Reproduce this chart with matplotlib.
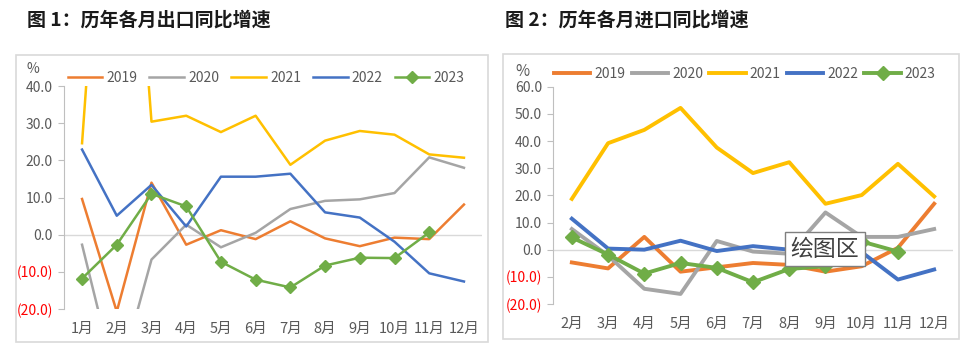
import numpy as np
import matplotlib
matplotlib.use("Agg")
import matplotlib.pyplot as plt
from matplotlib.patches import Rectangle
from matplotlib.ticker import FuncFormatter

plt.rcParams['font.family'] = ['Noto Sans CJK SC', 'DejaVu Sans']

# ---- data: exports (chart 1), Jan..Dec ----
exp_months = ['1月', '2月', '3月', '4月', '5月', '6月', '7月', '8月', '9月', '10月', '11月', '12月']
exp_2019 = [9.6, -20.7, 14.0, -2.7, 1.2, -1.2, 3.6, -1.0, -3.1, -0.8, -1.2, 8.1]
exp_2020 = [-2.7, -40.6, -6.7, 2.7, -3.4, 0.5, 6.9, 9.1, 9.5, 11.2, 20.8, 18.0]
exp_2021 = [24.6, 154.9, 30.4, 32.0, 27.6, 32.0, 18.8, 25.3, 27.9, 26.9, 21.6, 20.7]
exp_2022 = [22.9, 5.1, 13.4, 2.2, 15.6, 15.6, 16.4, 6.0, 4.6, -1.9, -10.4, -12.6]
exp_2023 = [-11.8, -2.7, 11.0, 7.6, -7.3, -12.1, -14.2, -8.3, -6.2, -6.3, 0.6]

# ---- data: imports (chart 2), Feb..Dec ----
imp_months = ['2月', '3月', '4月', '5月', '6月', '7月', '8月', '9月', '10月', '11月', '12月']
imp_2019 = [-4.7, -6.9, 4.7, -8.1, -6.5, -4.9, -5.6, -8.1, -6.1, 0.7, 16.9]
imp_2020 = [7.6, -2.2, -14.4, -16.3, 3.2, -0.7, -1.5, 13.7, 4.7, 4.7, 7.6]
imp_2021 = [18.7, 39.2, 44.1, 52.2, 37.6, 28.2, 32.2, 16.9, 20.1, 31.6, 19.6]
imp_2022 = [11.4, 0.4, 0.0, 3.3, -0.5, 1.3, 0.0, 0.3, -0.9, -11.0, -7.3]
imp_2023 = [4.5, -1.8, -8.8, -4.9, -6.7, -12.0, -7.1, -6.1, 3.0, -0.7]

years = ['2019', '2020', '2021', '2022', '2023']
colors = ['#ED7D31', '#A5A5A5', '#FFC000', '#4472C4', '#70AD47']
text_c = '#595959'

W, H = 973, 350


def fx(px):
    return px / W


def fy(py):
    return 1 - py / H


def fmt(v, pos):
    if v < 0:
        return '(%.1f)' % abs(v)
    return '%.1f' % v


def draw(ax, months, series, ylim, step, lw, ms):
    x = np.arange(len(months))
    for i, (s, c) in enumerate(zip(series, colors)):
        if i == 4:
            ax.plot(x[:len(s)], s, color=c, lw=lw, marker='D', ms=ms,
                    label=years[i], zorder=5)
        else:
            ax.plot(x[:len(s)], s, color=c, lw=lw, label=years[i], zorder=3)
    ax.set_xlim(-0.52, len(months) - 0.48)
    ax.set_ylim(*ylim)
    ax.set_yticks(np.arange(ylim[0], ylim[1] + 1, step))
    ax.yaxis.set_major_formatter(FuncFormatter(fmt))
    ax.set_xticks(x)
    ax.set_xticklabels(months)
    ax.axhline(0, color='#D9D9D9', lw=1, zorder=1)
    for sp in ['top', 'right', 'bottom']:
        ax.spines[sp].set_visible(False)
    ax.spines['left'].set_color('#BFBFBF')
    ax.tick_params(axis='y', length=4, color='#BFBFBF', labelsize=10,
                   labelcolor=text_c, pad=4)
    ax.tick_params(axis='x', length=0, labelsize=10.5, labelcolor=text_c, pad=9)
    for t, v in zip(ax.get_yticklabels(), ax.get_yticks()):
        if v < 0:
            t.set_color('#FF0000')
    ax.patch.set_alpha(0)


fig = plt.figure(figsize=(W / 100, H / 100), dpi=100)

# outer frames
fig.patches.append(Rectangle((fx(16), fy(342)), fx(472), 287 / H, transform=fig.transFigure,
                             fill=False, ec='#D9D9D9', lw=1.2))
fig.patches.append(Rectangle((fx(503), fy(339)), fx(456), 285 / H, transform=fig.transFigure,
                             fill=False, ec='#D9D9D9', lw=1.2))

# chart 1
ax1 = fig.add_axes([fx(64), fy(309), fx(482 - 64), (309 - 86) / H])
draw(ax1, exp_months, [exp_2019, exp_2020, exp_2021, exp_2022, exp_2023],
     (-20, 40), 10, 1.8, 6)
ax1.legend(ncol=5, frameon=False, loc='center', bbox_to_anchor=(fx(266), fy(78)),
           bbox_transform=fig.transFigure, fontsize=10, labelcolor=text_c,
           handlelength=2.5, handletextpad=0.3, columnspacing=0.85)
fig.text(fx(33), fy(69), '%', fontsize=10, color=text_c, ha='center', va='center')
fig.text(fx(27), fy(20), '图 1：历年各月出口同比增速', fontsize=13.7, fontweight='bold',
         color='#1a1a1a', ha='left', va='center')

# chart 2
ax2 = fig.add_axes([fx(553), fy(304), fx(953 - 553), (304 - 86.7) / H])
draw(ax2, imp_months, [imp_2019, imp_2020, imp_2021, imp_2022, imp_2023],
     (-20, 60), 10, 2.8, 7)
ax2.legend(ncol=5, frameon=False, loc='center', bbox_to_anchor=(fx(745), fy(74)),
           bbox_transform=fig.transFigure, fontsize=10, labelcolor=text_c,
           handlelength=2.6, handletextpad=0.3, columnspacing=0.45)
fig.text(fx(522), fy(72), '%', fontsize=11, color=text_c, ha='center', va='center')
fig.text(fx(505), fy(20), '图 2：历年各月进口同比增速', fontsize=13.7, fontweight='bold',
         color='#1a1a1a', ha='left', va='center')

# hover box
fig.text(fx(825), fy(249), '绘图区', fontsize=16.5, color='#404040', ha='center', va='center',
         zorder=10, bbox=dict(boxstyle='square,pad=0.25', fc='white', ec='#7F7F7F', lw=1))

fig.savefig('out.png', dpi=100)
